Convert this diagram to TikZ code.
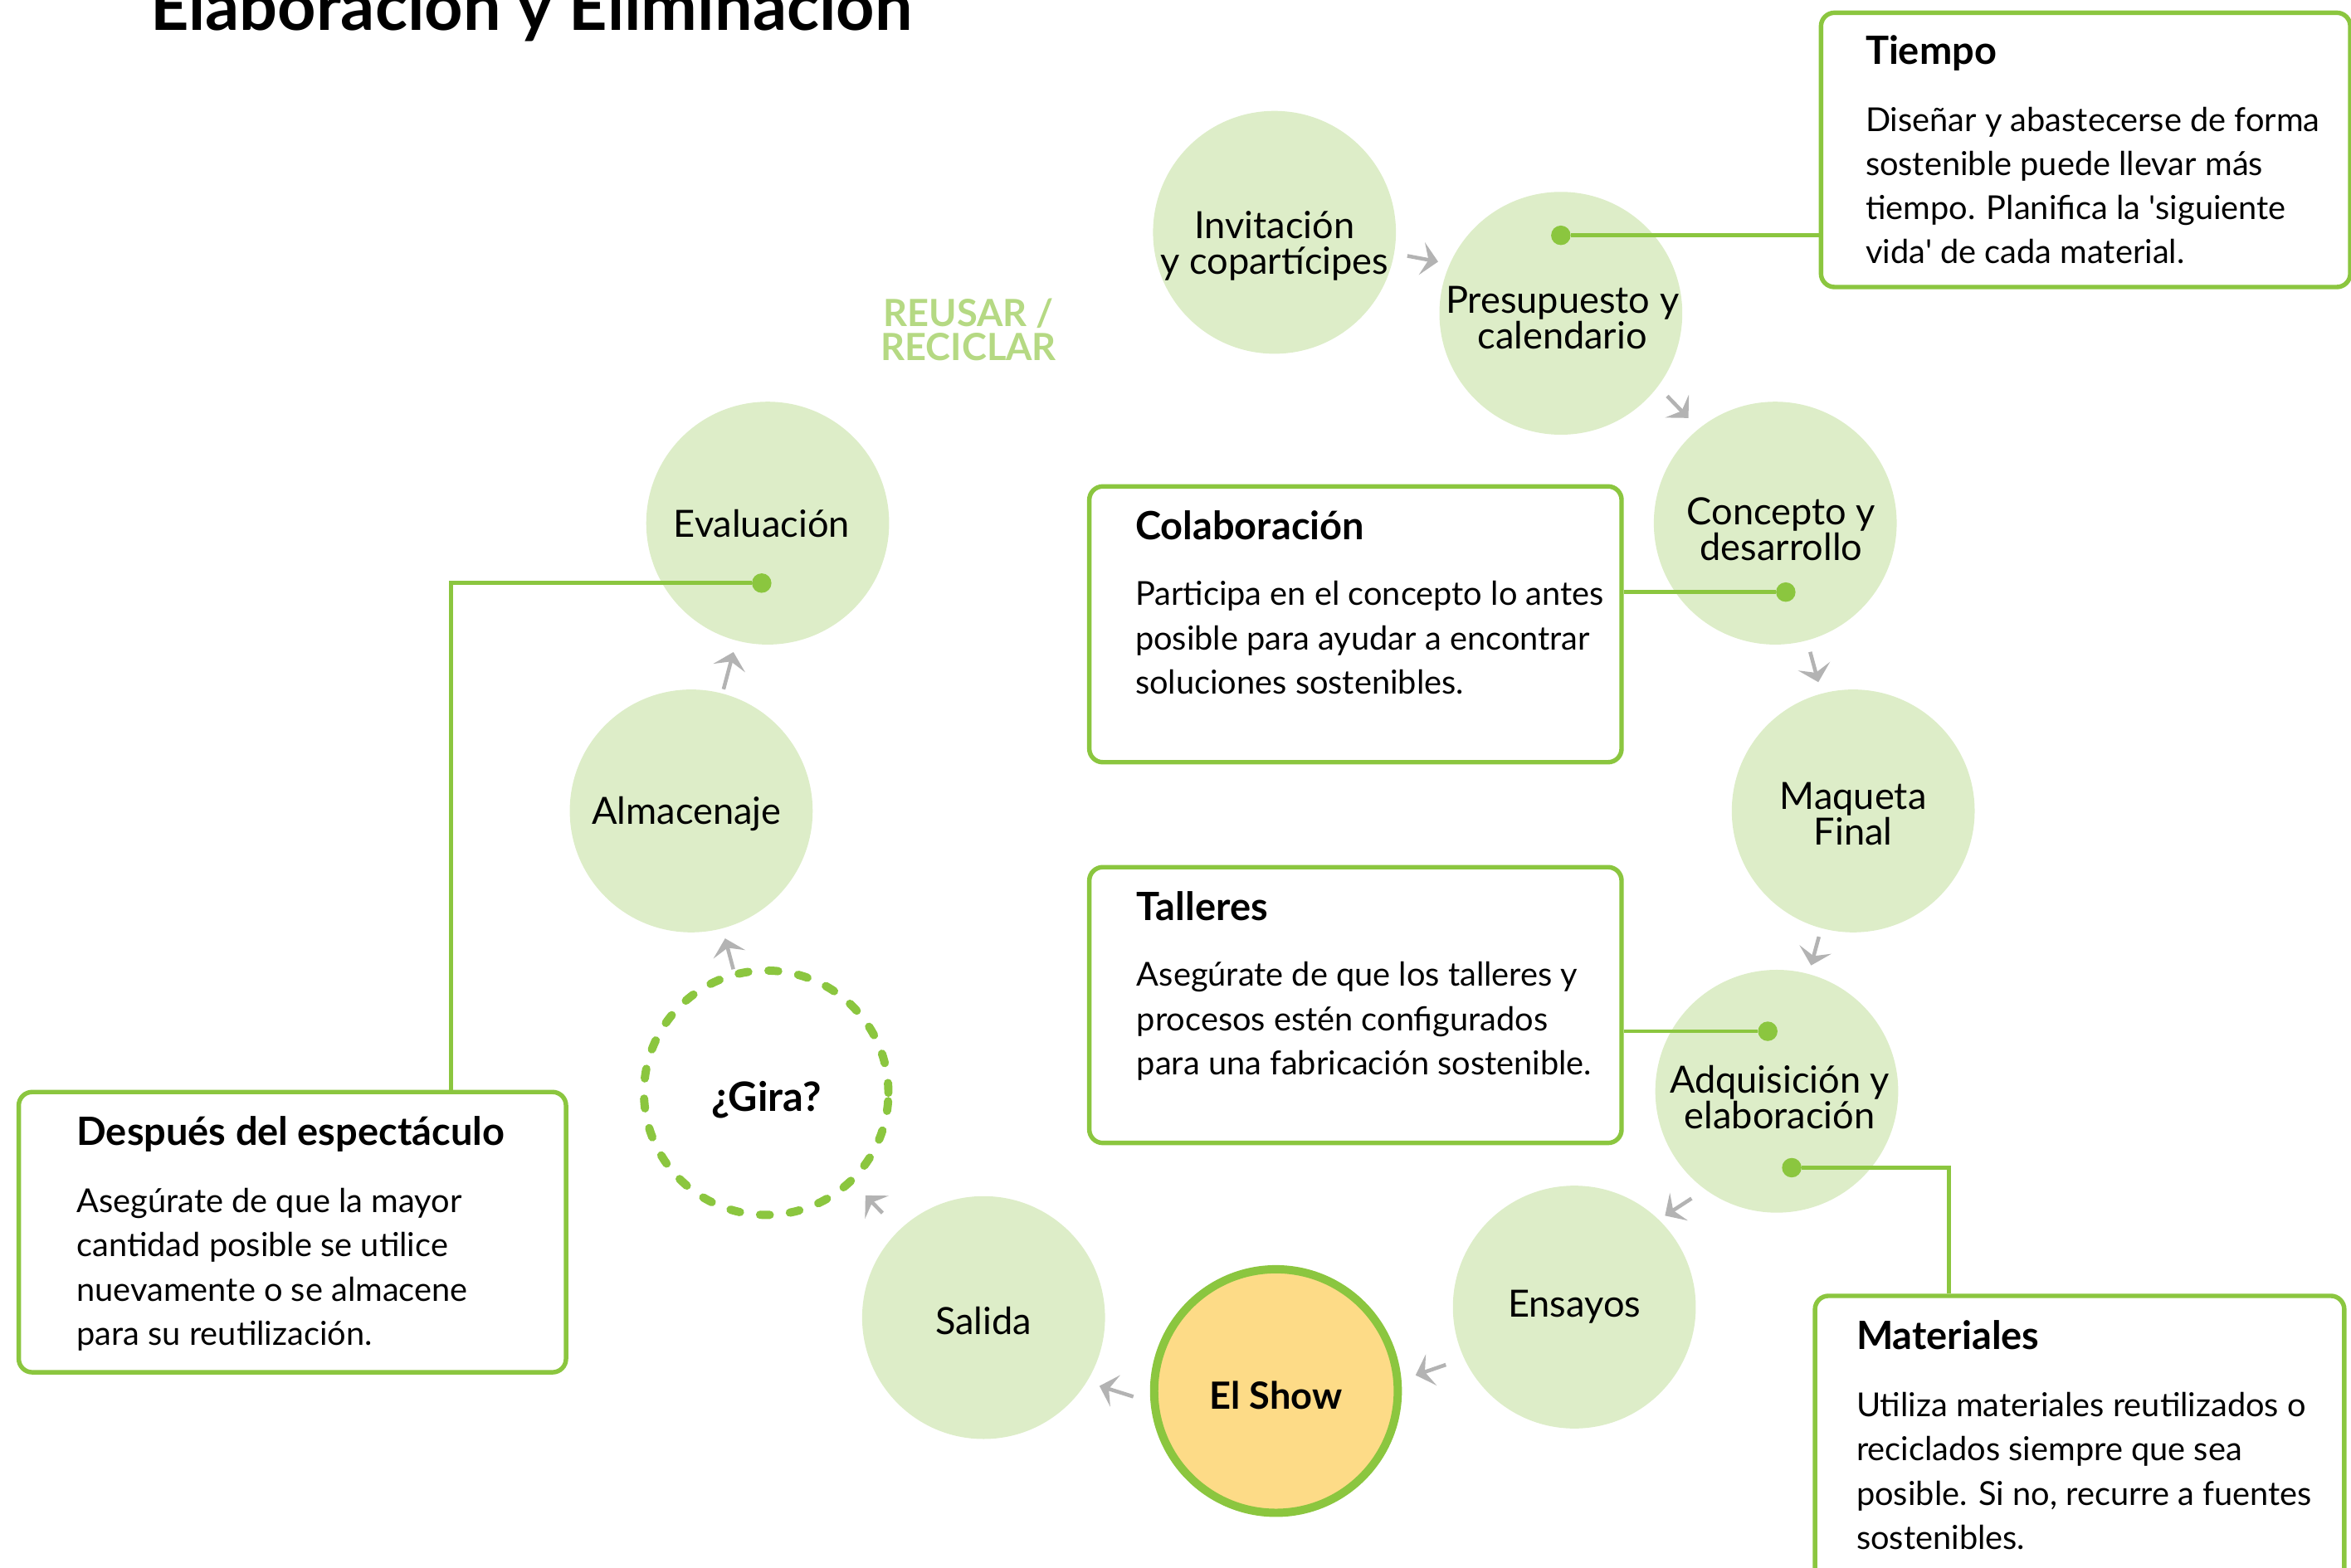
\documentclass[tikz,border=0pt]{standalone}
\usepackage{fontspec}
\setmainfont{Lato}
\usetikzlibrary{arrows.meta,calc}
\definecolor{cfill}{HTML}{DDEDC8}
\definecolor{lgreen}{HTML}{8BC63F}
\definecolor{showfill}{HTML}{FDDB87}
\definecolor{agray}{HTML}{B3B3B3}
\definecolor{rgreen}{HTML}{B5D983}
\newcommand\bodytxt[1]{\parbox[t]{420pt}{\fontsize{22}{29.5}\selectfont\raggedright #1}}
\begin{document}
\begin{tikzpicture}[x=1pt,y=-1pt,
  stage/.style={circle, fill=cfill, minimum size=162pt, inner sep=0pt, outer sep=0pt},
  showst/.style={circle, fill=showfill, draw=lgreen, line width=5.5pt, minimum size=162.5pt, inner sep=0pt},
  girast/.style={circle, draw=lgreen, line width=5.5pt, dash pattern=on 6.5pt off 13.5pt, line cap=round, minimum size=163pt, inner sep=0pt},
  lbl/.style={align=center, inner sep=0pt, font=\fontsize{25}{24}\selectfont},
  blbl/.style={inner sep=0pt, font=\fontsize{25}{25}\selectfont\bfseries},
  flow/.style={draw=agray, line width=2.5pt, -{Stealth[length=11pt,width=22pt,inset=4.5pt]}},
  infobox/.style={draw=lgreen, line width=3pt, rounded corners=9pt, fill=white, anchor=north west, inner sep=0pt},
  boxtitle/.style={anchor=base west, inner sep=0pt, font=\fontsize{26}{26}\selectfont\bfseries},
  boxbody/.style={anchor=base west, inner sep=0pt},
  link/.style={draw=lgreen, line width=2.6pt},
  dot/.style={circle, fill=lgreen, minimum size=13pt, inner sep=0pt},
]
\clip (0,0) rectangle (1568,1046);

% title
\node[anchor=base west, inner sep=0pt, font=\fontsize{44.8}{44.8}\selectfont\bfseries] (title) at (100,20) {Elaboración y Eliminación};

% reuse label
\node[align=center, inner sep=0pt, text=rgreen, font=\fontsize{25}{23}\selectfont\bfseries] (reuse) at (646,220) {REUSAR /\\RECICLAR};

% stages
\node[stage] (inv)  at (850,155) {};
\node[stage] (pres) at (1041,209) {};
\node[stage] (conc) at (1184,349) {};
\node[stage] (maq)  at (1236,541) {};
\node[stage] (adq)  at (1185,728) {};
\node[stage] (ens)  at (1050,872) {};
\node[showst] (show) at (851,928) {};
\node[stage] (sal)  at (656,879) {};
\node[girast] (gira) at (511,729) {};
\node[stage] (alm)  at (461,541) {};
\node[stage] (eval) at (512,349) {};

% stage labels
\node[lbl] (invL)  at ($(inv)+(0,9)$) {Invitación\\y copartícipes};
\node[lbl] (presL) at ($(pres)+(1,3)$) {Presupuesto y\\calendario};
\node[lbl] (concL) at ($(conc)+(4,4)$) {Concepto y\\desarrollo};
\node[lbl] (maqL)  at ($(maq)+(0,2)$) {Maqueta\\Final};
\node[lbl] (adqL)  at ($(adq)+(2,4)$) {Adquisición y\\elaboración};
\node[lbl] (ensL)  at ($(ens)+(0,0)$) {Ensayos};
\node[blbl] (showL) at ($(show)+(0,3)$) {El Show};
\node[lbl] (salL)  at ($(sal)+(0,2)$) {Salida};
\node[blbl, font=\fontsize{27}{27}\selectfont\bfseries] (giraL) at ($(gira)+(0,5)$) {¿Gira?};
\node[lbl] (almL)  at ($(alm)+(-3,2)$) {Almacenaje};
\node[lbl] (evalL) at ($(eval)+(-4,0)$) {Evaluación};

% flow arrows
\draw[flow, shorten <=9pt, shorten >=8pt] (inv.-10) -- (pres.156);
\draw[flow, shorten <=9pt, shorten >=10pt] (pres.-37) -- (conc.129);
\draw[flow, shorten <=8pt, shorten >=8pt] (conc) -- (maq);
\draw[flow, shorten <=6pt, shorten >=6pt] (maq) -- (adq);
\draw[flow, shorten <=11pt, shorten >=5pt] (adq.234) -- (ens.46);
\draw[flow, shorten <=13pt, shorten >=10pt] (ens.205) -- (show.5);
\draw[flow, shorten <=12pt, shorten >=9pt] (show.185) -- (sal.-32);
\draw[flow, shorten <=16pt, shorten >=11pt] (sal) -- (gira);
\draw[flow, shorten <=1pt, shorten >=7pt] (gira) -- (alm);
\draw[flow, shorten <=3pt, shorten >=8pt] (alm) -- (eval);

% info boxes
\node[infobox, minimum width=353pt, minimum height=183pt] (tiempo) at (1213,7) {};
\node[boxtitle] (tiempoT) at (1244,43) {Tiempo};
\node[boxbody] (tiempoB) at (1244,87.5) {\bodytxt{Diseñar y abastecerse de forma\\sostenible puede llevar más\\tiempo. Planifica la \textquotesingle siguiente\\vida\textquotesingle{} de cada material.}};

\node[infobox, minimum width=355pt, minimum height=184pt] (colab) at (725,323) {};
\node[boxtitle] (colabT) at (757,360) {Colaboración};
\node[boxbody] (colabB) at (757,404) {\bodytxt{Participa en el concepto lo antes\\posible para ayudar a encontrar\\soluciones sostenibles.}};

\node[infobox, minimum width=355pt, minimum height=184pt] (talleres) at (725,577) {};
\node[boxtitle] (talleresT) at (758,614) {Talleres};
\node[boxbody] (talleresB) at (758,658) {\bodytxt{Asegúrate de que los talleres y\\procesos estén configurados\\para una fabricación sostenible.}};

\node[infobox, minimum width=365pt, minimum height=187pt] (despues) at (11,727) {};
\node[boxtitle] (despuesT) at (51,764) {Después del espectáculo};
\node[boxbody] (despuesB) at (51,809) {\bodytxt{Asegúrate de que la mayor\\cantidad posible se utilice\\nuevamente o se almacene\\para su reutilización.}};

\node[infobox, minimum width=353pt, minimum height=220pt] (mater) at (1209,863) {};
\node[boxtitle] (materT) at (1238,900) {Materiales};
\node[boxbody] (materB) at (1238,945) {\bodytxt{Utiliza materiales reutilizados o\\reciclados siempre que sea\\posible. Si no, recurre a fuentes\\sostenibles.}};

% connector dots
\node[dot] (dT)  at (1041,157) {};
\node[dot] (dC)  at (1191,395) {};
\node[dot] (dTa) at (1179,688) {};
\node[dot] (dM)  at (1195,779) {};
\node[dot] (dE)  at (508,389) {};
\coordinate (kM) at (1300,779);
\coordinate (kE) at (301,389);

% connectors
\draw[link] (dT) -- (dT -| tiempo.west);
\draw[link] (dC) -- (dC -| colab.east);
\draw[link] (dTa) -- (dTa -| talleres.east);
\draw[link] (dM) -- (kM) -- (kM |- mater.north);
\draw[link] (dE) -- (kE) -- (kE |- despues.north);
\end{tikzpicture}
\end{document}
